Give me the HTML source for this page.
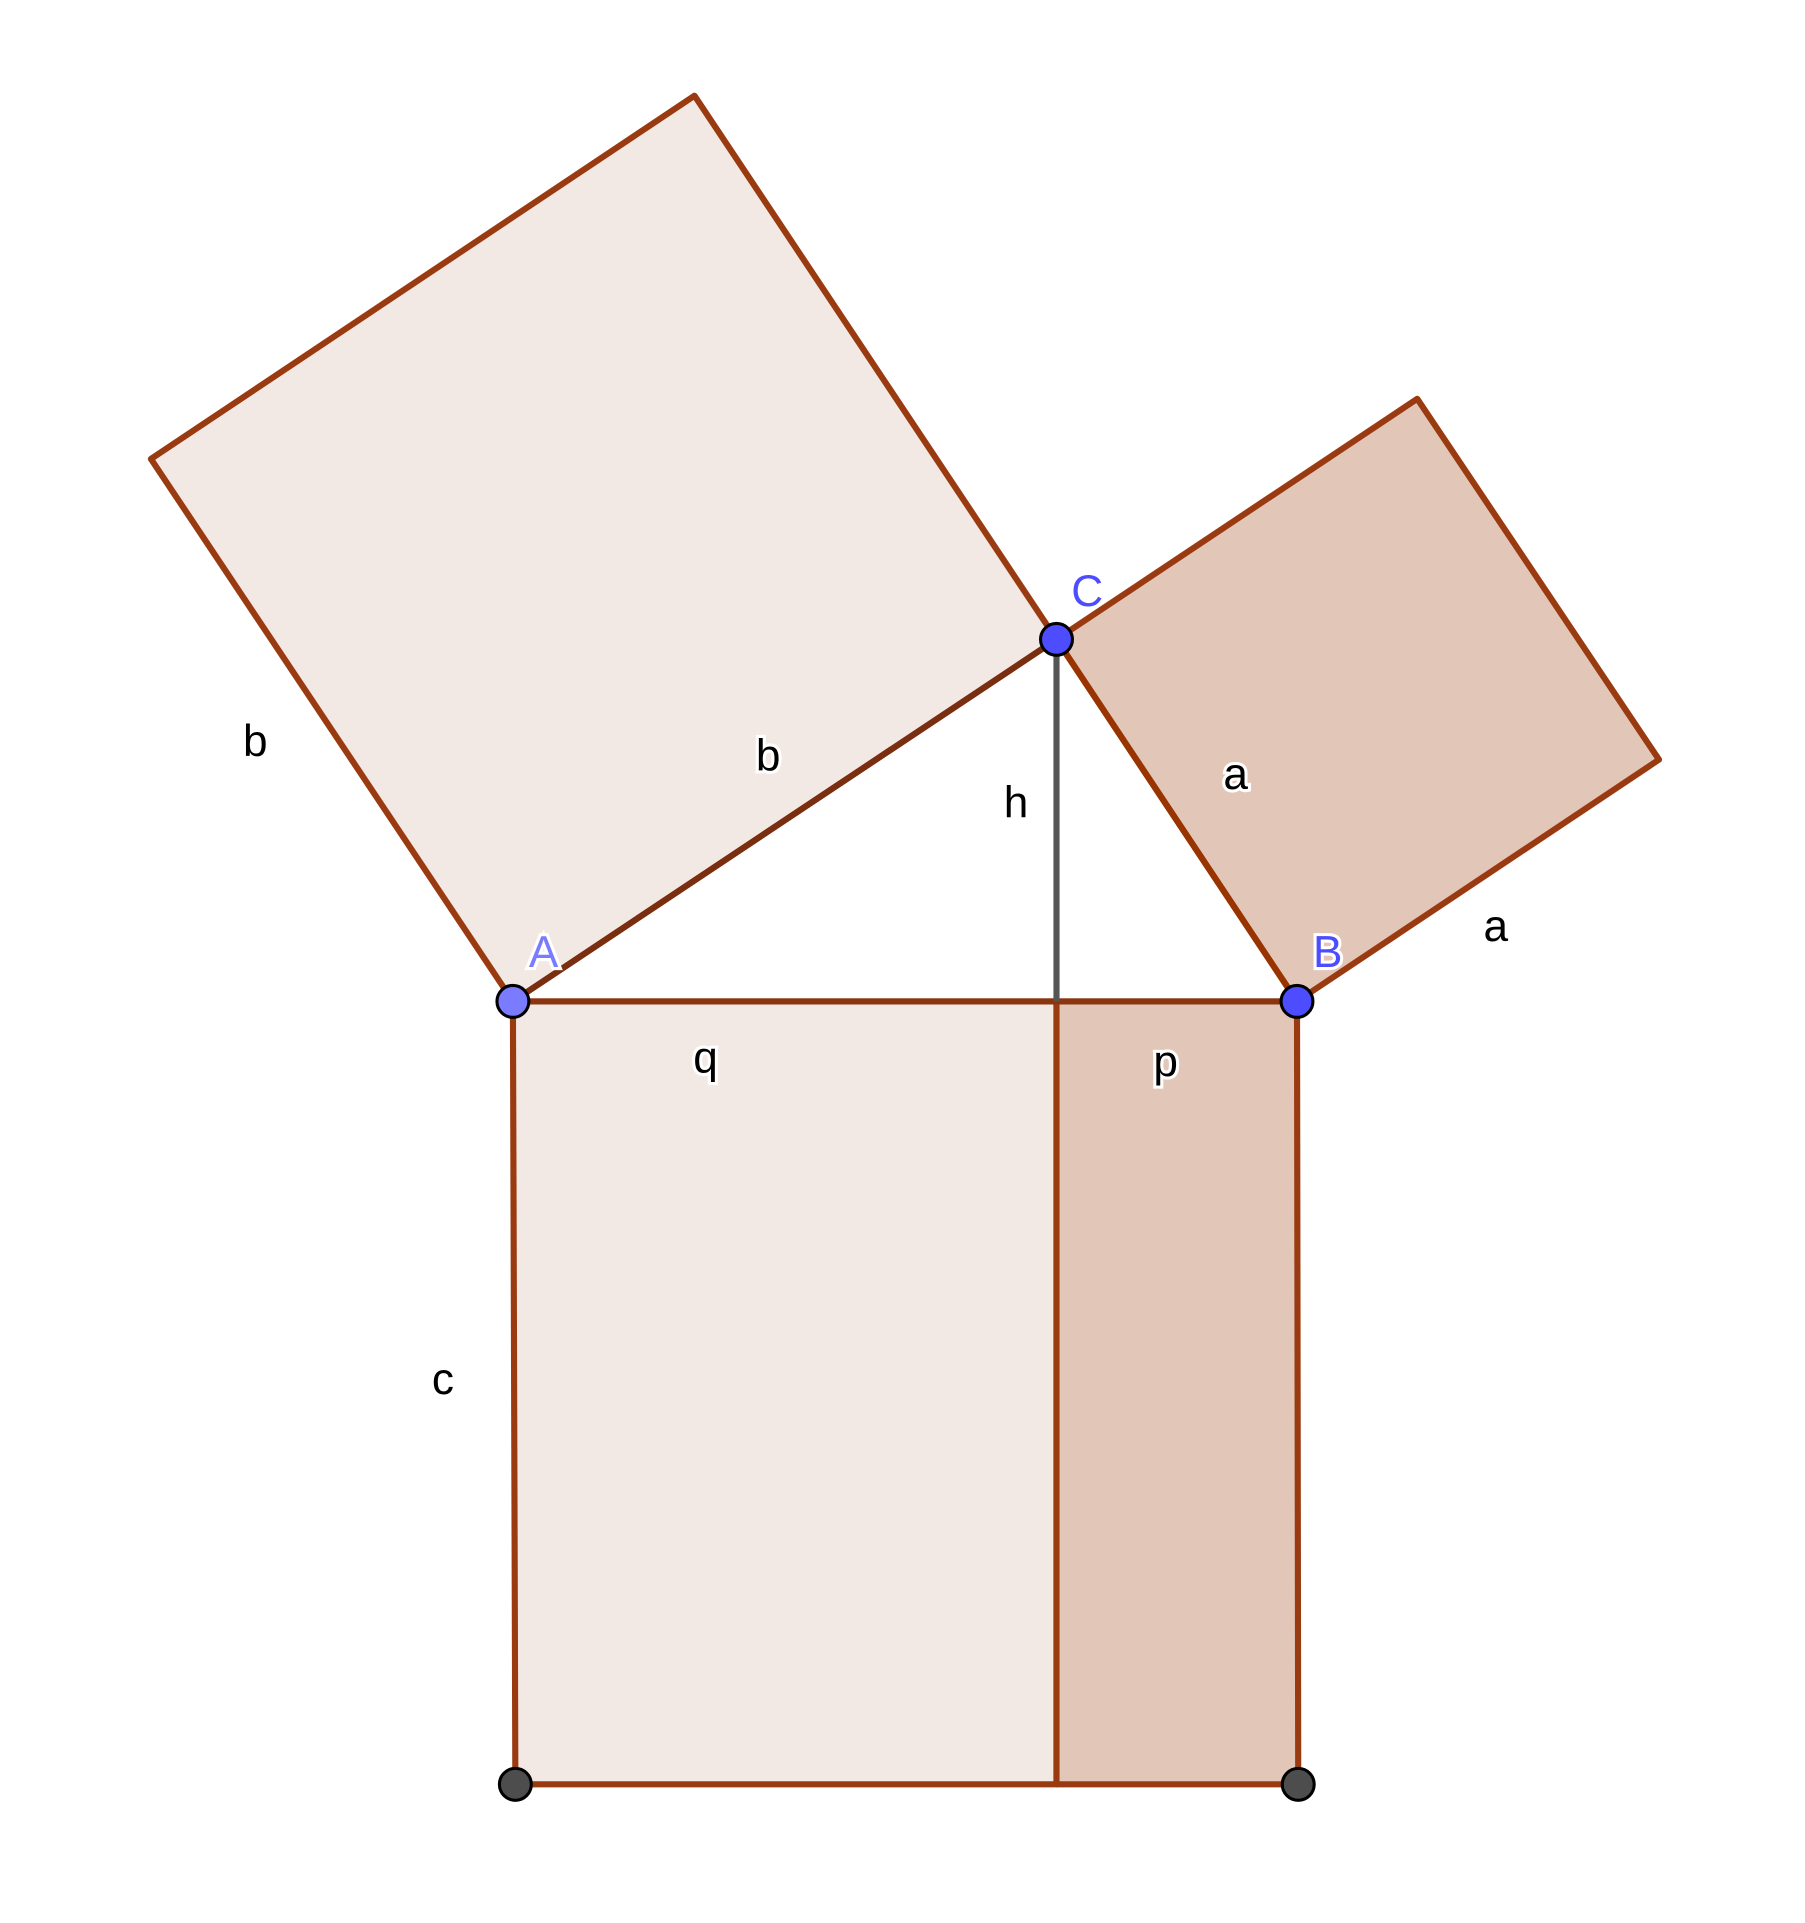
<!DOCTYPE html>
<html><head><meta charset="utf-8"><style>html,body{margin:0;padding:0;background:#fff}svg{display:block}</style></head>
<body>
<svg id="fig" width="1805" height="1923" viewBox="0 0 1471 1567" preserveAspectRatio="none" xmlns="http://www.w3.org/2000/svg" font-family="Liberation Sans, sans-serif">
<g id="shapes"></g><g id="labels"></g><g id="pts"></g>
</svg>
<script>
const polyNames=['square-b','square-a','rect-q','rect-p'];
const polyPts=[[[418,816],[861,521],[566,78],[123,374]],[[861,521],[1155,325],[1352,619],[1057,816]],[[418,816],[861,816],[861,1454],[420,1454]],[[861,816],[1057,816],[1058,1454],[861,1454]]];
const polyFill=['#f3e9e4','#e2c7b9','#f3e9e4','#e2c7b9'];
const segNames=['side-b','side-a','side-c','altitude-h'];
const segPts=[[[418,816],[861,521]],[[861,521],[1057,816]],[[418,816],[1057,816]],[[861,521],[861,816]]];
const segColor=['#7a2e10','#993300','#8a3510','#555555'];
const labelText=['b','b','a','a','h','q','p','c','A','B','C'];
const labelPos=[[208,616],[626,628],[1007,643],[1219,767],[828,666],[575,874],[950,877],[361,1136],[443,788],[1082,788],[886,494]];
const labelColor=['#000','#000','#000','#000','#000','#000','#000','#000','#7b7bff','#4d4dff','#4d4dff'];
const ptNames=['point-a','point-b','point-c','corner-d','corner-e'];
const ptPos=[[418,816],[1057,816],[861,521],[420,1454],[1058,1454]];
const ptFill=['#7b7bff','#4d4dff','#4d4dff','#4d4d4d','#4d4d4d'];
const NS='http://www.w3.org/2000/svg';
const sh=document.getElementById('shapes'),lb=document.getElementById('labels'),pg=document.getElementById('pts');
polyPts.forEach((p,i)=>{const e=document.createElementNS(NS,'polygon');
e.setAttribute('points',p.map(q=>q.join(',')).join(' '));
e.setAttribute('fill',polyFill[i]);e.setAttribute('stroke','#9a3a10');e.setAttribute('stroke-width','5');e.setAttribute('stroke-linejoin','round');


sh.appendChild(e);});
segPts.forEach((s,i)=>{const e=document.createElementNS(NS,'line');
e.setAttribute('x1',s[0][0]);e.setAttribute('y1',s[0][1]);e.setAttribute('x2',s[1][0]);e.setAttribute('y2',s[1][1]);
e.setAttribute('stroke',segColor[i]);e.setAttribute('stroke-width','5');


sh.appendChild(e);});
labelText.forEach((t,i)=>{const e=document.createElementNS(NS,'text');
e.setAttribute('x',labelPos[i][0]);e.setAttribute('y',labelPos[i][1]);e.setAttribute('text-anchor','middle');
e.setAttribute('font-size','36');e.setAttribute('fill',labelColor[i]);
e.setAttribute('stroke','#fff');e.setAttribute('stroke-width','5');e.setAttribute('paint-order','stroke');
e.textContent=t;


lb.appendChild(e);});
ptPos.forEach((p,i)=>{const e=document.createElementNS(NS,'circle');
e.setAttribute('cx',p[0]);e.setAttribute('cy',p[1]);e.setAttribute('r','13');
e.setAttribute('fill',ptFill[i]);e.setAttribute('stroke','#000');e.setAttribute('stroke-width','2.5');


pg.appendChild(e);});
</script>
</body></html>
